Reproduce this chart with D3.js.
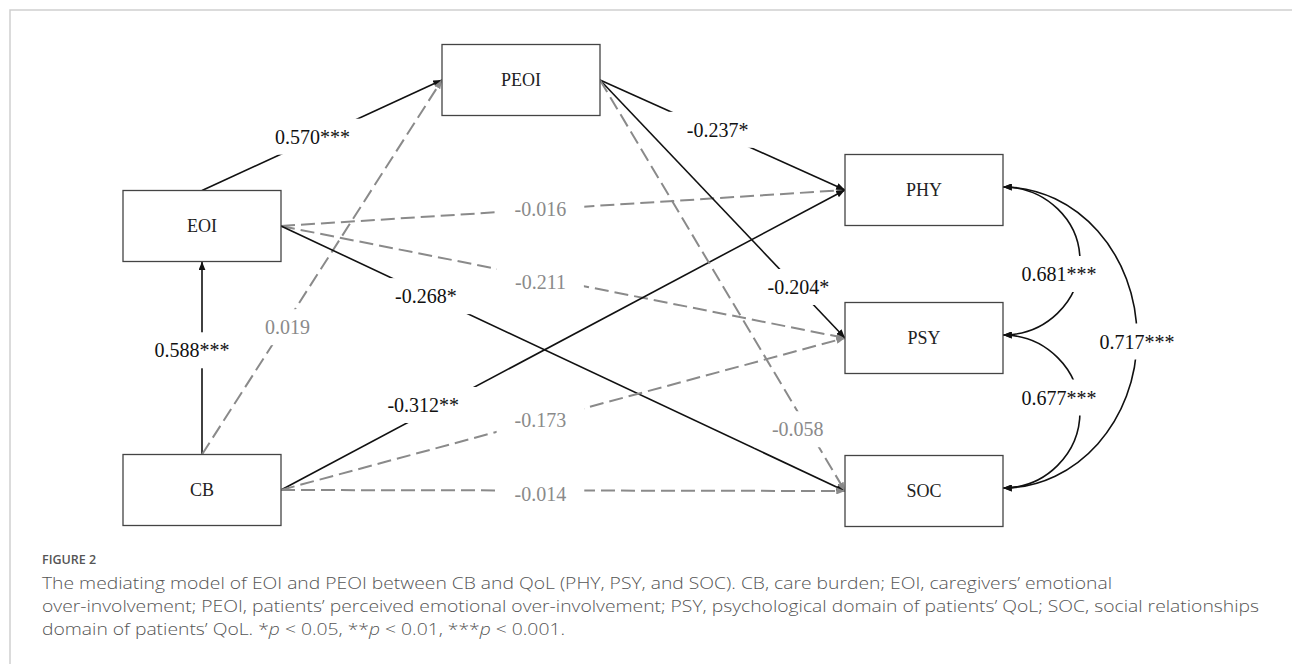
<!DOCTYPE html>
<html>
<head>
<meta charset="utf-8">
<script src="https://cdn.jsdelivr.net/npm/d3@7"></script>
<style>
  body { margin: 0; background: #fff; }
  svg { display: block; }
</style>
</head>
<body>
<svg class="target"></svg>
<script>
// variables in the model
var nodeNames = ["PEOI", "EOI", "CB", "PHY", "PSY", "SOC"];

// directed paths (regression weights)
var pathFrom = ["EOI", "CB", "CB", "EOI", "EOI", "EOI", "CB", "CB", "CB", "PEOI", "PEOI", "PEOI"];
var pathTo = ["PEOI", "EOI", "PEOI", "PHY", "PSY", "SOC", "PHY", "PSY", "SOC", "PHY", "PSY", "SOC"];
var pathCoef = [0.570, 0.588, 0.019, -0.016, -0.211, -0.268, -0.312, -0.173, -0.014, -0.237, -0.204, -0.058];
var pathSig = ["***", "***", "", "", "", "*", "**", "", "", "*", "*", ""];

// covariances between outcomes
var covFrom = ["PHY", "PSY", "PHY"];
var covTo = ["PSY", "SOC", "SOC"];
var covCoef = [0.681, 0.677, 0.717];
var covSig = ["***", "***", "***"];

var captionTitle = "FIGURE 2";
var captionLines = [
    "The mediating model of EOI and PEOI between CB and QoL (PHY, PSY, and SOC). CB, care burden; EOI, caregivers\u2019 emotional",
    "over-involvement; PEOI, patients\u2019 perceived emotional over-involvement; PSY, psychological domain of patients\u2019 QoL; SOC, social relationships",
    "domain of patients\u2019 QoL. "
];

var view_w = 1292;
var view_h = 664;
var box_w = 158;
var box_h = 71;

// layout of the diagram: column + row centre
var colX = d3.scaleOrdinal().domain(["left", "mid", "right"]).range([202, 521, 924]);
var nodeCol = {PEOI: "mid", EOI: "left", CB: "left", PHY: "right", PSY: "right", SOC: "right"};
var nodeY = {PEOI: 80, EOI: 226, CB: 490, PHY: 190, PSY: 338, SOC: 491};

// where along each path its label sits, plus a small nudge
var labelT = [0.46, 0.54, 0.34, 0.46, 0.46, 0.257, 0.27, 0.46, 0.46, 0.48, 0.81, 0.84];
var labelShift = [[0, -3], [-10, 0], [4, 0], [0, 0], [0, 4], [0, 2], [-10, -4], [0, 0], [0, 4], [0, -3], [0, -2], [-8, 4]];
var covBulge = [77, 77, 134];
var covShift = [[-21, 13], [-21, -14], [0, 4]];

// caption layout
var capX = 42;
var capY = [589, 612, 635];
var capW = [1070, 1217, 523];

const svg = d3.select(".target").attr("width", view_w).attr("height", view_h)
    .attr("viewBox", [0, 0, view_w, view_h]);

var fmt = d3.formatLocale({decimal: ".", thousands: ",", grouping: [3], currency: ["", ""], minus: "-"}).format(".3f");

var defs = svg.append("defs");
var add_marker = function (id, color) {
    defs.append("marker")
        .attr("id", id)
        .attr("viewBox", "0 0 10 8")
        .attr("refX", 10)
        .attr("refY", 4)
        .attr("markerWidth", 9)
        .attr("markerHeight", 7)
        .attr("markerUnits", "userSpaceOnUse")
        .attr("orient", "auto-start-reverse")
        .append("path")
        .attr("d", "M0,0 L10,4 L0,8 z")
        .style("fill", color);
}
add_marker("arr-black", "#111");
add_marker("arr-gray", "#8a8a8a");

// frame round the figure
svg.append("path")
    .attr("d", "M10," + view_h + " L10,10 L" + view_w + ",10")
    .style("fill", "none")
    .style("stroke", "#cfcfcf")
    .style("stroke-width", 1.5);

var node = {};
nodeNames.forEach(function (n) {
    node[n] = {x: colX(nodeCol[n]), y: nodeY[n]};
});

var port = function (from, to) {
    var a = node[from], b = node[to];
    var s, t;
    if (nodeCol[from] == nodeCol[to]) {
        s = [a.x, a.y - box_h / 2];
        t = [b.x, b.y + box_h / 2];
    } else if (nodeCol[to] == "mid") {
        s = [a.x, a.y - box_h / 2];
        t = [b.x - box_w / 2, b.y];
    } else {
        s = [a.x + box_w / 2, a.y];
        t = [b.x - box_w / 2, b.y];
    }
    return [s, t];
}

var lineLayer = svg.append("g");
var maskLayer = svg.append("g");
var textLayer = svg.append("g");
var boxLayer = svg.append("g");

var labels = [];

pathFrom.forEach(function (f, i) {
    var st = port(f, pathTo[i]);
    var sig = pathSig[i] != "";
    lineLayer.append("line")
        .attr("x1", st[0][0]).attr("y1", st[0][1])
        .attr("x2", st[1][0]).attr("y2", st[1][1])
        .style("stroke", sig ? "#111" : "#8a8a8a")
        .style("stroke-width", sig ? 1.6 : 2)
        .style("stroke-dasharray", sig ? null : "14,6")
        .attr("marker-end", sig ? "url(#arr-black)" : "url(#arr-gray)");
    var t = labelT[i];
    labels.push({
        x: st[0][0] + (st[1][0] - st[0][0]) * t + labelShift[i][0],
        y: st[0][1] + (st[1][1] - st[0][1]) * t + labelShift[i][1],
        text: fmt(pathCoef[i]) + pathSig[i],
        color: sig ? "#111" : "#8a8a8a"
    });
});

// double headed curves on the right
covFrom.forEach(function (f, i) {
    var x0 = node[f].x + box_w / 2;
    var y0 = node[f].y - 3;
    var y1 = node[covTo[i]].y - 3;
    var rx = covBulge[i];
    var cy = (y0 + y1) / 2;
    var ry = (y1 - y0) / 2;
    var k = 0.5523;
    var p = d3.path();
    p.moveTo(x0, y0);
    p.bezierCurveTo(x0 + k * rx, y0, x0 + rx, cy - k * ry, x0 + rx, cy);
    p.bezierCurveTo(x0 + rx, cy + k * ry, x0 + k * rx, y1, x0, y1);
    lineLayer.append("path")
        .attr("d", p.toString())
        .style("fill", "none")
        .style("stroke", "#111")
        .style("stroke-width", 1.6)
        .attr("marker-start", "url(#arr-black)")
        .attr("marker-end", "url(#arr-black)");
    labels.push({
        x: x0 + rx + covShift[i][0],
        y: cy + covShift[i][1],
        text: fmt(covCoef[i]) + covSig[i],
        color: "#111"
    });
});

labels.forEach(function (d) {
    var txt = textLayer.append("text")
        .attr("x", d.x)
        .attr("y", d.y)
        .attr("dy", "0.35em")
        .attr("text-anchor", "middle")
        .style("font-family", "'Liberation Serif', 'Times New Roman', serif")
        .style("font-size", "20px")
        .style("fill", d.color)
        .text(d.text);
    var bb = txt.node().getBBox();
    maskLayer.append("rect")
        .attr("x", bb.x - 18)
        .attr("y", d.y - 18)
        .attr("width", bb.width + 36)
        .attr("height", 36)
        .style("fill", "#fff");
});

nodeNames.forEach(function (n) {
    var g = boxLayer.append("g");
    g.append("rect")
        .attr("x", node[n].x - box_w / 2)
        .attr("y", node[n].y - box_h / 2)
        .attr("width", box_w)
        .attr("height", box_h)
        .style("fill", "#fff")
        .style("stroke", "#444")
        .style("stroke-width", 1.3);
    g.append("text")
        .attr("x", node[n].x)
        .attr("y", node[n].y)
        .attr("dy", "0.35em")
        .attr("text-anchor", "middle")
        .style("font-family", "'Liberation Serif', 'Times New Roman', serif")
        .style("font-size", "18px")
        .style("fill", "#222")
        .text(n);
});

// caption
svg.append("text")
    .attr("x", capX)
    .attr("y", 564)
    .style("font-family", "'Open Sans', sans-serif")
    .style("font-size", "12.5px")
    .style("font-weight", 600)
    .style("fill", "#555")
    .text(captionTitle);

captionLines.forEach(function (line, i) {
    var t = svg.append("text")
        .attr("x", capX)
        .attr("y", capY[i])
        .attr("textLength", capW[i])
        .attr("lengthAdjust", "spacingAndGlyphs")
        .style("font-family", "'Open Sans', sans-serif")
        .style("font-size", "17px")
        .style("font-weight", 300)
        .style("fill", "#555")
        .text(line);
    if (i == 2) {
        // significance legend with italic p
        var parts = [["*", false], ["p", true], [" < 0.05, **", false], ["p", true], [" < 0.01, ***", false], ["p", true], [" < 0.001.", false]];
        parts.forEach(function (pt) {
            t.append("tspan")
                .style("font-style", pt[1] ? "italic" : "normal")
                .text(pt[0]);
        });
    }
});
</script>
</body>
</html>
